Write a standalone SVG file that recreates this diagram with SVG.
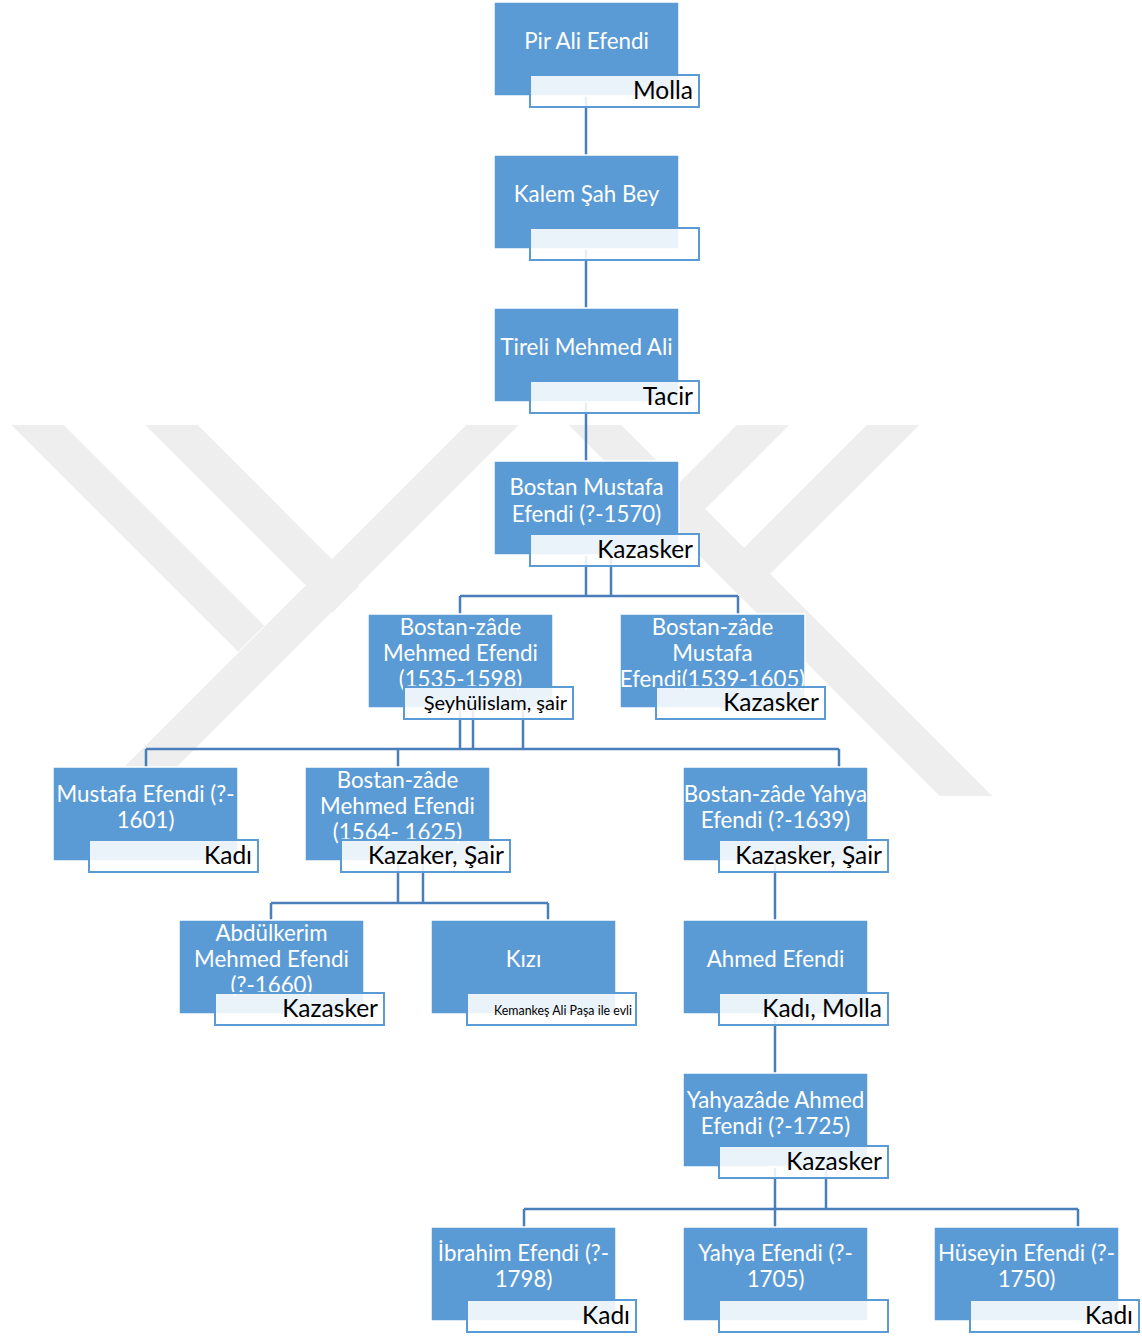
<svg xmlns="http://www.w3.org/2000/svg" width="1142" height="1336" viewBox="0 0 1142 1336">
<defs>
<style>
.wm{stroke:#EEEEEE;stroke-width:37;fill:none;stroke-linecap:butt}
.box{fill:#5B9BD5;stroke:#FFFFFF;stroke-width:1.5}
.lbl{fill:#FFFFFF;fill-opacity:0.88;stroke:#5B9BD5;stroke-width:2}
.t{font-family:Lato,"Liberation Sans",sans-serif;font-size:22.3px;fill:#FFFFFF;text-anchor:middle}
.l{font-family:Lato,"Liberation Sans",sans-serif;font-size:24.5px;fill:#000000;text-anchor:end}
.ls{font-size:20px}
.lxs{font-size:12.4px}
.c{stroke:#4A7EBB;stroke-width:2.5;fill:none}
</style>
<clipPath id="wmclip"><rect x="0" y="425" width="1142" height="371"/></clipPath>
</defs>
<rect x="0" y="0" width="1142" height="1336" fill="#FFFFFF"/>
<g id="watermark" clip-path="url(#wmclip)">
<path class="wm" d="M17.5 405 L251.25 638.75"/>
<path class="wm" d="M151.5 405 L345.75 599.25"/>
<path class="wm" d="M512.5 405 L100.5 817"/>
<path class="wm" d="M575 405 L989 819"/>
<path class="wm" d="M783 405 L665.5 522.5"/>
<path class="wm" d="M913 405 L754 564"/>
</g>
<g id="connectors">
<path class="c" d="M586 96 V155"/>
<path class="c" d="M586 249 V308"/>
<path class="c" d="M586 402 V461"/>
<path class="c" d="M586 555 V596 M611 555 V596 M460 596 H738 M460 596 V614 M738 596 V614"/>
<path class="c" d="M460 708 V749 M473 708 V749 M523 708 V749 M146 749 H839 M146 749 V767 M398 749 V767 M839 749 V767"/>
<path class="c" d="M398 861 V903 M423 861 V903 M271 903 H548 M271 903 V920 M548 903 V920"/>
<path class="c" d="M775 861 V920"/>
<path class="c" d="M775 1014 V1073"/>
<path class="c" d="M775 1167 V1209 M826 1167 V1209 M524 1209 H1078 M524 1209 V1227 M775 1209 V1227 M1078 1209 V1227"/>
</g>
<g id="n1">
<rect class="box" x="494" y="2" width="185" height="94"/>
<text class="t" x="586.5" y="49">Pir Ali Efendi</text>
<rect class="lbl" x="530" y="75" width="169" height="32"/>
<text class="l" x="693" y="99">Molla</text>
</g>
<g id="n2">
<rect class="box" x="494" y="155" width="185" height="94"/>
<text class="t" x="586.5" y="202">Kalem Şah Bey</text>
<rect class="lbl" x="530" y="228" width="169" height="32"/>
</g>
<g id="n3">
<rect class="box" x="494" y="308" width="185" height="94"/>
<text class="t" x="586.5" y="355">Tireli Mehmed Ali</text>
<rect class="lbl" x="530" y="381" width="169" height="32"/>
<text class="l" x="693" y="405">Tacir</text>
</g>
<g id="n4">
<rect class="box" x="494" y="461" width="185" height="94"/>
<text class="t" x="586.5" y="495">Bostan Mustafa</text>
<text class="t" x="586.5" y="522">Efendi (?-1570)</text>
<rect class="lbl" x="530" y="534" width="169" height="32"/>
<text class="l" x="693" y="558">Kazasker</text>
</g>
<g id="n5">
<rect class="box" x="368" y="614" width="185" height="94"/>
<text class="t" x="460.5" y="635">Bostan-zâde</text>
<text class="t" x="460.5" y="661">Mehmed Efendi</text>
<text class="t" x="460.5" y="687">(1535-1598)</text>
<rect class="lbl" x="404" y="687" width="169" height="32"/>
<text class="l ls" x="567" y="710">Şeyhülislam, şair</text>
</g>
<g id="n6">
<rect class="box" x="620" y="614" width="185" height="94"/>
<text class="t" x="712.5" y="635">Bostan-zâde</text>
<text class="t" x="712.5" y="661">Mustafa</text>
<text class="t" x="712.5" y="687">Efendi(1539-1605)</text>
<rect class="lbl" x="656" y="687" width="169" height="32"/>
<text class="l" x="819" y="711">Kazasker</text>
</g>
<g id="n7">
<rect class="box" x="53" y="767" width="185" height="94"/>
<text class="t" x="145.5" y="802">Mustafa Efendi (?-</text>
<text class="t" x="145.5" y="828">1601)</text>
<rect class="lbl" x="89" y="840" width="169" height="32"/>
<text class="l" x="252" y="864">Kadı</text>
</g>
<g id="n8">
<rect class="box" x="305" y="767" width="185" height="94"/>
<text class="t" x="397.5" y="788">Bostan-zâde</text>
<text class="t" x="397.5" y="814">Mehmed Efendi</text>
<text class="t" x="397.5" y="840">(1564- 1625)</text>
<rect class="lbl" x="341" y="840" width="169" height="32"/>
<text class="l" x="504" y="864">Kazaker, Şair</text>
</g>
<g id="n9">
<rect class="box" x="683" y="767" width="185" height="94"/>
<text class="t" x="775.5" y="802">Bostan-zâde Yahya</text>
<text class="t" x="775.5" y="828">Efendi (?-1639)</text>
<rect class="lbl" x="719" y="840" width="169" height="32"/>
<text class="l" x="882" y="864">Kazasker, Şair</text>
</g>
<g id="n10">
<rect class="box" x="179" y="920" width="185" height="94"/>
<text class="t" x="271.5" y="941">Abdülkerim</text>
<text class="t" x="271.5" y="967">Mehmed Efendi</text>
<text class="t" x="271.5" y="993">(?-1660)</text>
<rect class="lbl" x="215" y="993" width="169" height="32"/>
<text class="l" x="378" y="1017">Kazasker</text>
</g>
<g id="n11">
<rect class="box" x="431" y="920" width="185" height="94"/>
<text class="t" x="523.5" y="967">Kızı</text>
<rect class="lbl" x="467" y="993" width="169" height="32"/>
<text class="l lxs" x="632" y="1015">Kemankeş Ali Paşa ile evli</text>
</g>
<g id="n12">
<rect class="box" x="683" y="920" width="185" height="94"/>
<text class="t" x="775.5" y="967">Ahmed Efendi</text>
<rect class="lbl" x="719" y="993" width="169" height="32"/>
<text class="l" x="882" y="1017">Kadı, Molla</text>
</g>
<g id="n13">
<rect class="box" x="683" y="1073" width="185" height="94"/>
<text class="t" x="775.5" y="1108">Yahyazâde Ahmed</text>
<text class="t" x="775.5" y="1134">Efendi (?-1725)</text>
<rect class="lbl" x="719" y="1146" width="169" height="32"/>
<text class="l" x="882" y="1170">Kazasker</text>
</g>
<g id="n14">
<rect class="box" x="431" y="1227" width="185" height="94"/>
<text class="t" x="523.5" y="1261">İbrahim Efendi (?-</text>
<text class="t" x="523.5" y="1287">1798)</text>
<rect class="lbl" x="467" y="1300" width="169" height="32"/>
<text class="l" x="630" y="1324">Kadı</text>
</g>
<g id="n15">
<rect class="box" x="683" y="1227" width="185" height="94"/>
<text class="t" x="775.5" y="1261">Yahya Efendi (?-</text>
<text class="t" x="775.5" y="1287">1705)</text>
<rect class="lbl" x="719" y="1300" width="169" height="32"/>
</g>
<g id="n16">
<rect class="box" x="934" y="1227" width="185" height="94"/>
<text class="t" x="1026.5" y="1261">Hüseyin Efendi (?-</text>
<text class="t" x="1026.5" y="1287">1750)</text>
<rect class="lbl" x="970" y="1300" width="169" height="32"/>
<text class="l" x="1133" y="1324">Kadı</text>
</g>
</svg>
